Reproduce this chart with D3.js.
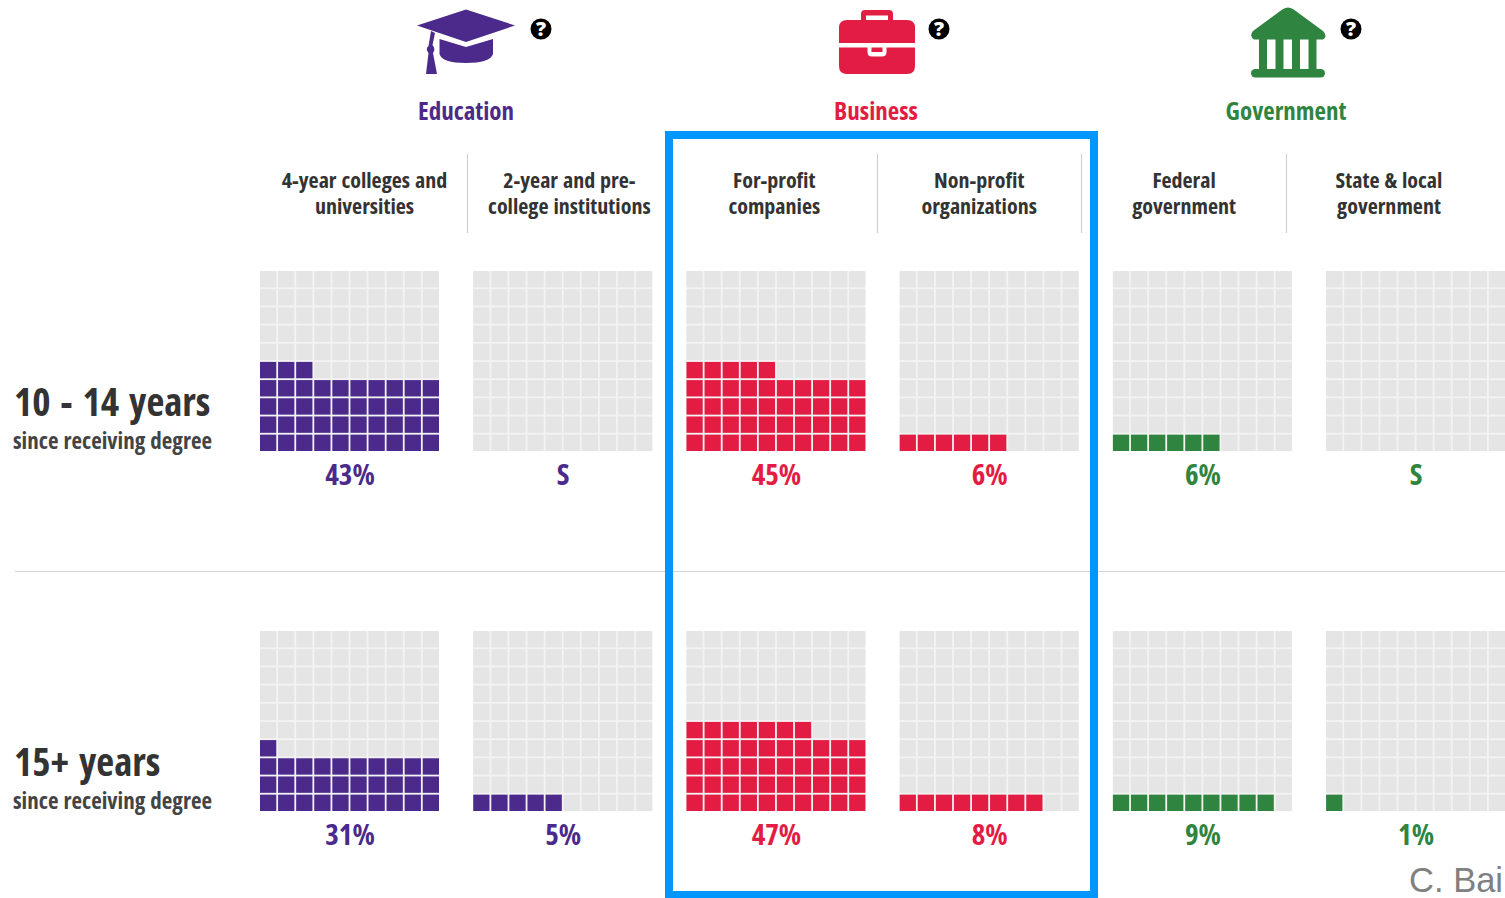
<!DOCTYPE html>
<html>
<head>
<meta charset="utf-8">
<title>Employment sector by years since receiving degree</title>
<script src="https://d3js.org/d3.v7.min.js"></script>
<style>
html, body { margin: 0; padding: 0; background: #fff; overflow: hidden; }
svg { display: block; }
text { font-family: "Open Sans", sans-serif; font-weight: 700; font-stretch: 75%; }
</style>
</head>
<body>
<div id="chart"></div>
<script>
// data
const sectors = ["Education", "Business", "Government"];
const columns = ["4-year colleges and|universities", "2-year and pre-|college institutions", "For-profit|companies", "Non-profit|organizations", "Federal|government", "State & local|government"];
const columnSector = ["Education", "Education", "Business", "Business", "Government", "Government"];
const rowNames = ["10 - 14 years", "15+ years"];
const rowSub = "since receiving degree";
const values10to14 = [43, null, 45, 6, 6, null];
const values15plus = [31, 5, 47, 8, 9, 1];

const color = d3.scaleOrdinal().domain(sectors).range(["#4b2a8c", "#e31c43", "#2f8540"]);

const width = 1505, height = 898;
const svg = d3.select("#chart").append("svg").attr("width", width).attr("height", height);

// scales: panels, rows and the cells inside a panel
const panelX = d3.scaleBand().domain(d3.range(6)).range([260, 1505.2]).paddingInner(0.16).paddingOuter(0);
const rowY = d3.scalePoint().domain(d3.range(2)).range([271, 631]);
const cellX = d3.scaleBand().domain(d3.range(10)).range([0, 179]).paddingInner(0.1);
const cellY = d3.scaleBand().domain(d3.range(10)).range([0, 180]).paddingInner(0.1);
const groupX = d3.scalePoint().domain(sectors).range([466, 1286]);
const headX = d3.scalePoint().domain(d3.range(6)).range([364.5, 1389]);

// row separator
svg.append("line").attr("x1", 15).attr("x2", width).attr("y1", 571.5).attr("y2", 571.5)
  .attr("stroke", "#d4d4d4").attr("stroke-width", 1);

// column header separators
svg.selectAll(".sep").data([467.5, 877.5, 1081.5, 1286.5]).join("line")
  .attr("class", "sep")
  .attr("x1", d => d).attr("x2", d => d).attr("y1", 154).attr("y2", 233)
  .attr("stroke", "#d0d0d0").attr("stroke-width", 1.2);

// sector titles
svg.selectAll(".sector").data(sectors).join("text")
  .attr("class", "sector")
  .attr("x", d => groupX(d)).attr("y", 120)
  .attr("text-anchor", "middle").style("font-size", "25px")
  .attr("fill", d => color(d)).text(d => d);

// column titles
columns.forEach((c, i) => {
  const t = svg.append("text")
    .attr("text-anchor", "middle").style("font-size", "22px").style("word-spacing", "1px")
    .attr("fill", "#333");
  c.split("|").forEach((line, j) => {
    t.append("tspan").attr("x", headX(i)).attr("y", 188 + j * 26).text(line);
  });
});

// the waffles, filled from the bottom row, left to right
[values10to14, values15plus].forEach((vals, r) => {
  vals.forEach((v, i) => {
    const g = svg.append("g").attr("transform", `translate(${panelX(i)},${rowY(r)})`);
    const cells = d3.range(100).map(k => ({k: k, col: k % 10, row: 9 - Math.floor(k / 10)}));
    g.append("rect").attr("width", cellX.range()[1]).attr("height", cellY.range()[1]).attr("fill", "#f3f3f3");
    g.selectAll(".cell").data(cells).join("rect")
      .attr("class", "cell")
      .attr("x", d => cellX(d.col)).attr("y", d => cellY(d.row))
      .attr("width", cellX.bandwidth()).attr("height", cellY.bandwidth())
      .attr("fill", d => (v !== null && d.k < v) ? color(columnSector[i]) : "#e5e5e5");
    g.append("text")
      .attr("x", 90).attr("y", 214)
      .attr("text-anchor", "middle").style("font-size", "29px")
      .attr("fill", color(columnSector[i]))
      .text(v === null ? "S" : v + "%");
  });
});

// row labels
rowNames.forEach((name, r) => {
  svg.append("text").attr("x", 14).attr("y", rowY(r) + 145)
    .style("font-size", "39px").style("word-spacing", "3px").attr("fill", "#333").text(name);
  svg.append("text").attr("x", 13).attr("y", rowY(r) + 178)
    .style("font-size", "23px").style("word-spacing", "1px").attr("fill", "#444").text(rowSub);
});

// icons
const cap = svg.append("g").attr("fill", color("Education"));
cap.append("path").attr("d", "M466 9.5 L515 25.5 L466 42 L417 25.5 Z");
cap.append("path").attr("d", "M439.5 39 L466 47 L493 39 L493 54 Q490 63 466 63 Q442 63 439.5 54 Z");
cap.append("path").attr("d", "M431 31 L435 33 L432.5 45 Q436 49 433 53 L437 74 L426 74 L428.5 53 Q425 49 428.5 46 Z");

const bag = svg.append("g").attr("fill", color("Business"));
bag.append("path").attr("d", "M861 20 L861 14 Q861 10 865 10 L889 10 Q893 10 893 14 L893 20 L888 20 L888 15.5 L866 15.5 L866 20 Z");
bag.append("path").attr("d", "M839 43 L839 28 Q839 20 847 20 L907 20 Q915 20 915 28 L915 43 Z");
bag.append("path").attr("d", "M839 47.5 L867.5 47.5 L867.5 52 Q867.5 56.5 872 56.5 L882 56.5 Q886.5 56.5 886.5 52 L886.5 47.5 L915 47.5 L915 66 Q915 74 907 74 L847 74 Q839 74 839 66 Z");
bag.append("rect").attr("x", 871.5).attr("y", 47.5).attr("width", 11).attr("height", 4.5);

const bank = svg.append("g").attr("fill", color("Government"));
bank.append("path").attr("d", "M1283 9 Q1288 6 1293 9 L1323 31 Q1328 36 1323 39.5 L1254 39.5 Q1249 36 1253 31 Z");
bank.selectAll("rect").data([1259, 1275.5, 1292, 1308.5]).join("rect")
  .attr("x", d => d).attr("y", 39).attr("width", 8).attr("height", 31);
bank.append("rect").attr("x", 1251).attr("y", 69).attr("width", 74).attr("height", 8.5).attr("rx", 4.2);

// help badges
svg.selectAll(".help").data([541, 939, 1351]).join("g").attr("class", "help")
  .attr("transform", d => `translate(${d},29)`)
  .each(function() {
    const h = d3.select(this);
    h.append("circle").attr("r", 10.5).attr("fill", "#000");
    h.append("text").attr("y", 7).attr("text-anchor", "middle")
      .style("font-size", "20px").style("font-stretch", "100%").style("font-weight", 800)
      .attr("fill", "#fff").text("?");
  });

// highlight frame
svg.append("rect").attr("x", 669).attr("y", 135).attr("width", 425).attr("height", 760)
  .attr("fill", "none").attr("stroke", "#0096ff").attr("stroke-width", 8);

// credit
svg.append("text").attr("x", 1503).attr("y", 892).attr("text-anchor", "end")
  .style("font-family", "'Liberation Sans', sans-serif").style("font-weight", 400).style("font-stretch", "100%")
  .style("font-size", "34.5px").attr("fill", "#808080").text("C. Bai");
</script>
</body>
</html>
